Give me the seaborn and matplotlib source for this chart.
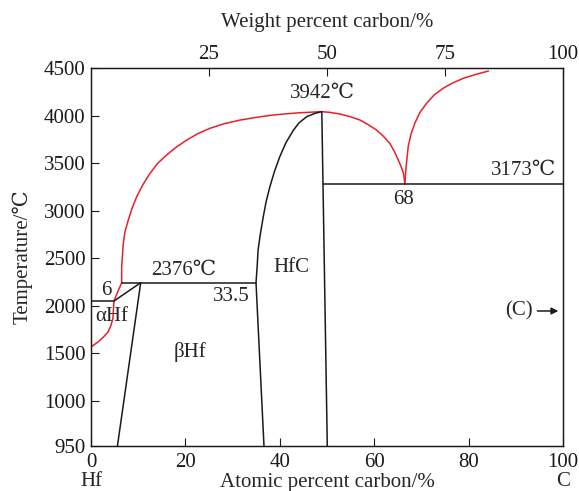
import matplotlib
matplotlib.use("Agg")
import matplotlib.pyplot as plt
import seaborn as sns

# ---------------- data (atomic percent C, temperature axis units) ----------------
liq_hf_x = [6.5, 6.5, 6.6, 6.84, 7.2, 7.9, 8.69, 9.68, 10.95, 12.5, 14.13, 16.04, 18.0,
            20.3, 22.6, 25.2, 28.2, 31.6, 35.1, 38.6, 41.5, 44.3, 46.8, 48.9]
liq_hf_y = [2243, 2411, 2482, 2657, 2779, 2902, 3025, 3147, 3270, 3393, 3498, 3586, 3666,
            3743, 3809, 3866, 3914, 3953, 3982, 4006, 4019, 4030, 4036, 4041]

liq_c1_x = [48.9, 50.6, 52.75, 54.9, 57.0, 58.75, 60.5, 61.9, 63.3, 64.3, 65.1, 65.7, 66.2, 66.5]
liq_c1_y = [4041, 4034, 4016, 3988, 3953, 3904, 3848, 3785, 3708, 3620, 3533, 3463, 3393, 3281]

liq_c2_x = [66.5, 66.7, 66.95, 67.2, 67.8, 68.6, 69.7, 71.1, 72.7, 74.6, 76.6, 78.9, 81.6, 84.2]
liq_c2_y = [3281, 3428, 3551, 3673, 3806, 3919, 4034, 4129, 4216, 4287, 4342, 4392, 4434, 4468]

alpha_x = [6.5, 5.6, 4.87, 4.75, 4.66, 4.2, 3.6, 2.6, 1.48, 0.0]
alpha_y = [2243, 2140, 2051, 1960, 1872, 1790, 1725, 1670, 1620, 1568]

hfc_left_x = [48.9, 47.5, 45.7, 44.1, 42.9, 41.3, 40.0, 38.9, 37.9, 37.1, 36.5, 35.9,
              35.4, 35.2, 34.96, 36.65]
hfc_left_y = [4041, 4024, 3988, 3925, 3848, 3715, 3568, 3417, 3252, 3095, 2937, 2762,
              2587, 2411, 2243, 527]

hfc_right_x = [48.9, 50.06]
hfc_right_y = [4041, 527]

eut_x = [49.1, 100.0]
eut_y = [3281, 3281]

perit_x = [6.5, 34.96]
perit_y = [2243, 2243]

eutd_x = [0.0, 4.87]
eutd_y = [2051, 2051]

ab_x = [4.87, 10.53]
ab_y = [2051, 2243]

beta_x = [10.53, 5.6]
beta_y = [2243, 527]

y_ticks = [527, 1000, 1500, 2000, 2500, 3000, 3500, 4000, 4500]
y_ticklabels = ["950", "1000", "1500", "2000", "2500", "3000", "3500", "4000", "4500"]
x_ticks = [0, 20, 40, 60, 80, 100]
top_ticks = [25, 50, 75, 100]

# ---------------- style ----------------
sns.set_style("ticks")
plt.rcParams["font.family"] = ["Liberation Serif", "DejaVu Serif", "Noto Sans CJK SC"]

fig = plt.figure(figsize=(5.79, 4.91), dpi=100)
ax = fig.add_axes([91 / 579, 45 / 491, (563 - 91) / 579, (446 - 68) / 491])

RED = "#e8202a"
BLK = "#1a1a1a"
LW = 1.1

def draw(x, y, color):
    sns.lineplot(x=x, y=y, sort=False, estimator=None, color=color, lw=LW, ax=ax)

draw(liq_hf_x, liq_hf_y, RED)
draw(liq_c1_x, liq_c1_y, RED)
draw(liq_c2_x, liq_c2_y, RED)
draw(alpha_x, alpha_y, RED)
for xs, ys in [(hfc_left_x, hfc_left_y), (hfc_right_x, hfc_right_y), (eut_x, eut_y),
               (perit_x, perit_y), (eutd_x, eutd_y), (ab_x, ab_y), (beta_x, beta_y)]:
    draw(xs, ys, BLK)

ax.set_xlim(0, 100)
ax.set_ylim(527, 4500)
ax.set_xticks(x_ticks)
ax.set_xticklabels([str(t) for t in x_ticks])
ax.set_yticks(y_ticks)
ax.set_yticklabels(y_ticklabels)
ax.tick_params(direction="in", length=6, width=0.8, labelsize=15,
               top=False, right=False, colors=BLK)
ax.tick_params(axis="x", pad=5)
ax.tick_params(axis="y", pad=4)
ax.set_xlabel("Atomic percent carbon/%", fontsize=15, labelpad=1)
ax.set_ylabel("Temperature/℃", fontsize=15, labelpad=8)
for s in ax.spines.values():
    s.set_linewidth(0.9)
    s.set_color(BLK)

ax2 = ax.twiny()
ax2.set_xlim(0, 100)
ax2.set_xticks(top_ticks)
ax2.set_xticklabels([str(t) for t in top_ticks])
ax2.tick_params(direction="in", length=6, width=0.8, labelsize=15, pad=3, colors=BLK)
ax2.set_xlabel("Weight percent carbon/%", fontsize=15, labelpad=13)
for s in ax2.spines.values():
    s.set_linewidth(0.9)
    s.set_color(BLK)

# ---------------- annotations ----------------
fs = 15
ax.text(49.0, 4237, "3942℃", ha="center", va="center", fontsize=fs)
ax.text(98.5, 3428, "3173℃", ha="right", va="center", fontsize=fs)
ax.text(66.3, 3123, "68", ha="center", va="center", fontsize=fs)
ax.text(19.6, 2377, "2376℃", ha="center", va="center", fontsize=fs)
ax.text(29.7, 2103, "33.5", ha="center", va="center", fontsize=fs)
ax.text(3.2, 2166, "6", ha="center", va="center", fontsize=fs)
ax.text(4.3, 1883, "αHf", ha="center", va="center", fontsize=fs)
ax.text(21.0, 1515, "βHf", ha="center", va="center", fontsize=fs)
ax.text(42.4, 2398, "HfC", ha="center", va="center", fontsize=fs)
ax.text(93.5, 1946, "(C)", ha="right", va="center", fontsize=fs)
ax.annotate("", xy=(99.6, 1946), xytext=(94.0, 1946),
            arrowprops=dict(arrowstyle="-|>", color=BLK, lw=1.1, mutation_scale=10))
ax.text(0, -0.095, "Hf", transform=ax.transAxes, ha="center", va="center", fontsize=fs)
ax.text(1, -0.095, "C", transform=ax.transAxes, ha="center", va="center", fontsize=fs)

fig.savefig("out.png", dpi=100)
